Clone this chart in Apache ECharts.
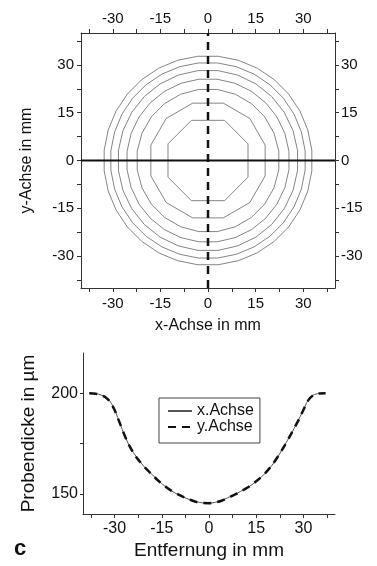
<!DOCTYPE html>
<html>
<head>
<meta charset="utf-8">
<script src="https://cdn.jsdelivr.net/npm/echarts@6/dist/echarts.min.js"></script>
<style>
  html, body { margin: 0; padding: 0; background: #fff; }
  #chart { width: 377px; height: 566px; }
</style>
</head>
<body>
<div id="chart"></div>
<script>
// contour map (top) + thickness profile (bottom)

// tick labels / tick marks for the mm axes
const mmLabels = [-30, -15, 0, 15, 30];
const mmTicks = [-37.5, -30, -22.5, -15, -7.5, 0, 7.5, 15, 22.5, 30, 37.5];

// contour lines, radius in mm read at the axis crossings
const contourRadius = [12.6, 18, 22.3, 25.5, 28.2, 30.6, 32.7];
const contourSides = [8, 12, 24, 28, 28, 32, 32];

// cut lines through the center
const cutLine = [-40, 40];

// profile: distance in mm, thickness in µm
const distance = [-38, -36, -34, -33, -32, -31, -30, -29, -28, -27, -26, -25, -24, -23, -22, -21, -20, -18, -16, -14, -12, -10, -8, -6, -4, -2, 0, 2, 4, 6, 8, 10, 12, 14, 16, 18, 20, 22, 24, 26, 28, 29, 30, 31, 32, 33, 34, 35, 37];
const thickX = [200, 199.8, 199, 198.2, 197, 195, 192, 188, 183.8, 179.8, 176.3, 173, 170.5, 168.3, 166.2, 164.3, 162.5, 159.5, 156.5, 153.8, 151.6, 149.8, 148.3, 147.1, 146.1, 145.5, 145.4, 145.8, 146.7, 148.1, 149.6, 151.2, 152.8, 155, 157.5, 160.5, 164.2, 168.8, 174.2, 179.5, 185.5, 188.6, 191.7, 195.3, 197.6, 199, 199.6, 199.9, 200];
const thickY = [200, 199.8, 198.9, 198.1, 196.8, 194.7, 191.8, 187.9, 183.9, 179.9, 176.2, 173.1, 170.4, 168.1, 166.1, 164.2, 162.6, 159.4, 156.4, 153.9, 151.6, 149.9, 148.4, 147.1, 146.0, 145.5, 145.4, 145.8, 146.6, 148.0, 149.5, 151.1, 152.9, 155.1, 157.6, 160.6, 164.3, 168.9, 174.0, 179.6, 185.4, 188.5, 191.8, 195.1, 197.5, 198.9, 199.6, 199.9, 200];
const thickLabels = [150, 200];
const thickTicks = [150, 175, 200];

let chartDom = document.getElementById("chart");
let chart = echarts.init(chartDom);

const font = "Liberation Sans, Arial, sans-serif";
const axisColor = "#333";

function contourPoints(r, n) {
    // polygon with flat sides facing the axes
    let pts = [];
    let r0 = r / Math.cos(Math.PI / n);
    for (let i = 0; i <= n; i++) {
        let a = Math.PI / n + i * 2 * Math.PI / n;
        pts.push([r0 * Math.cos(a), r0 * Math.sin(a)]);
    }
    return pts;
}

function mmAxis(pos, grid, size, margin) {
    return {
        type: "value",
        gridIndex: grid,
        position: pos,
        min: -40,
        max: 40,
        splitLine: { show: false },
        axisLine: { onZero: false, lineStyle: { color: axisColor, width: 1 } },
        axisTick: { show: true, inside: false, length: 4, customValues: mmTicks, lineStyle: { color: axisColor } },
        axisLabel: { customValues: mmLabels, color: "#111", fontSize: size, fontFamily: font, margin: margin }
    };
}

let contourSeries = contourRadius.map((r, i) => ({
    type: "line",
    xAxisIndex: 0,
    yAxisIndex: 0,
    data: contourPoints(r, contourSides[i]),
    symbol: "none",
    silent: true,
    lineStyle: { color: "#666", width: 0.8 },
    z: 2
}));

let option = {
    animation: false,
    backgroundColor: "#fff",
    grid: [
        { left: 81, top: 33, width: 254, height: 255 },
        { left: 83, top: 353, width: 252, height: 161 }
    ],
    xAxis: [
        Object.assign(mmAxis("bottom", 0, 15, 8), {
            name: "x-Achse in mm", nameLocation: "middle", nameGap: 30,
            nameTextStyle: { fontSize: 16, fontFamily: font, color: "#111" }
        }),
        mmAxis("top", 0, 15, 7),
        Object.assign(mmAxis("bottom", 1, 16, 7), {
            name: "Entfernung in mm", nameLocation: "middle", nameGap: 27,
            nameTextStyle: { fontSize: 19, fontFamily: font, color: "#111" }
        })
    ],
    yAxis: [
        Object.assign(mmAxis("left", 0, 15, 7), {
            name: "y-Achse in mm", nameLocation: "middle", nameGap: 46,
            nameTextStyle: { fontSize: 16, fontFamily: font, color: "#111" }
        }),
        mmAxis("right", 0, 15, 6),
        {
            type: "value",
            gridIndex: 1,
            min: 140,
            max: 220,
            splitLine: { show: false },
            axisLine: { show: true, onZero: false, lineStyle: { color: axisColor, width: 1 } },
            axisTick: { show: true, length: 3, customValues: thickTicks, lineStyle: { color: axisColor } },
            axisLabel: { customValues: thickLabels, color: "#111", fontSize: 16, fontFamily: font, margin: 5 },
            name: "Probendicke in µm", nameLocation: "middle", nameGap: 45,
            nameTextStyle: { fontSize: 19, fontFamily: font, color: "#111" }
        }
    ],
    legend: {
        data: ["x.Achse", "y.Achse"],
        orient: "vertical",
        left: 159,
        top: 398,
        itemWidth: 24,
        itemHeight: 14,
        itemGap: 0,
        padding: [5, 6, 8, 8],
        borderColor: "#444",
        borderWidth: 1,
        itemStyle: { opacity: 0 },
        textStyle: { fontSize: 16, fontFamily: font, color: "#111", lineHeight: 15 }
    },
    graphic: [
        {
            type: "text",
            left: 14,
            top: 538,
            style: { text: "c", font: "bold 22px " + font, fill: "#111" }
        }
    ],
    series: contourSeries.concat([
        {
            type: "line",
            xAxisIndex: 0,
            yAxisIndex: 0,
            data: cutLine.map(v => [v, 0]),
            symbol: "none",
            silent: true,
            lineStyle: { color: "#111", width: 2 },
            z: 3
        },
        {
            type: "line",
            xAxisIndex: 0,
            yAxisIndex: 0,
            data: cutLine.map(v => [0, v]),
            symbol: "none",
            silent: true,
            lineStyle: { color: "#111", width: 2.5, type: [8, 6] },
            z: 4
        },
        {
            name: "x.Achse",
            type: "line",
            xAxisIndex: 2,
            yAxisIndex: 2,
            data: distance.map((d, i) => [d, thickX[i]]),
            symbol: "none",
            smooth: 0.3,
            itemStyle: { color: "#555" },
            lineStyle: { color: "#555", width: 1 },
            z: 2
        },
        {
            name: "y.Achse",
            type: "line",
            xAxisIndex: 2,
            yAxisIndex: 2,
            data: distance.map((d, i) => [d, thickY[i]]),
            symbol: "none",
            smooth: 0.3,
            itemStyle: { color: "#111" },
            lineStyle: { color: "#111", width: 2.5, type: [8, 6] },
            z: 3
        }
    ])
};

chart.setOption(option);
</script>
</body>
</html>
